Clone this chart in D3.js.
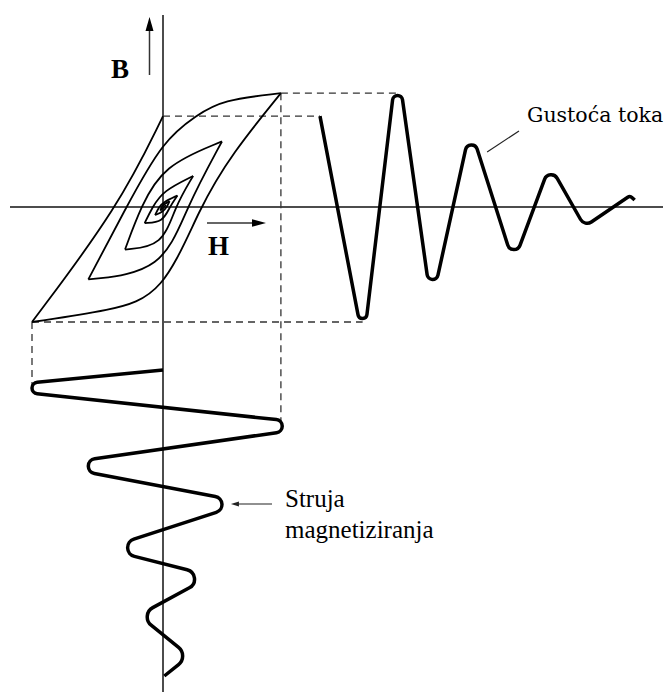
<!DOCTYPE html>
<html>
<head>
<meta charset="utf-8">
<script src="https://cdn.jsdelivr.net/npm/d3@7"></script>
<style>
  body { margin: 0; background: #fff; }
  svg { display: block; }
</style>
</head>
<body>
<script>
// flux density wave: time (half periods), B
const fluxT = [0, 1.1, 2.0, 2.9, 3.9, 5.0, 5.95, 6.85, 8.0, 8.12];
const fluxB = [0.79, -0.97, 0.97, -0.63, 0.54, -0.37, 0.28, -0.14, 0.09, 0.06];

// magnetizing current wave: time (downwards), H
const currT = [0, 0.45, 1.4, 2.4, 3.35, 4.45, 5.2, 6.15, 7.15, 7.65];
const currH = [0, -1, 0.91, -0.57, 0.45, -0.27, 0.24, -0.12, 0.15, 0.01];

// B-H path, turning points
const loopH = [0, -1, 0.90, -0.57, 0.45, -0.29, 0.23, -0.14, 0.11, -0.06, 0.05, -0.02, 0.02];
const loopB = [0.79, -1, 0.99, -0.63, 0.57, -0.37, 0.27, -0.14, 0.10, -0.07, 0.05, -0.03, 0.02];
// per branch: B where it crosses H=0, H where it crosses B=0
const remB = [null, -0.77, 0.58, -0.56, 0.36, -0.34, 0.14, -0.13, 0.04, -0.04, 0.02, -0.01];
const coerH = [-0.34, 0.28, -0.28, 0.18, -0.17, 0.09, -0.08, 0.05, -0.03, 0.03, -0.01, 0.01];
const riseShoulder = [[-0.4, -0.9], [0.53, 0.47]];
const fallShoulder = [[0.45, 0.93], [0.26, 0.8]];

const width = 668, height = 692;

const x = d3.scaleLinear().domain([-1, 1]).range([32, 294]);
const y = d3.scaleLinear().domain([-1, 1]).range([322, 92]);
const tx = d3.scaleLinear().domain([0, 8]).range([320, 630]);
const ty = d3.scaleLinear().domain([0, 8]).range([370, 690]);

const svg = d3.select("body").append("svg")
    .attr("width", width)
    .attr("height", height)
    .attr("font-family", "'Liberation Serif', 'Times New Roman', serif");

// polyline with rounded turns; vertices pushed out so each arc still reaches its peak
function roundedPath(pts, rad) {
  let v = pts.map(q => q.slice());
  const rr = pts.map(() => 0);
  for (let k = 0; k < 40; k++) {
    v = pts.map((q, i) => {
      if (i == 0 || i == pts.length - 1) return q;
      const a = v[i - 1], c = v[i + 1], m = v[i];
      let ux = a[0] - m[0], uy = a[1] - m[1], wx = c[0] - m[0], wy = c[1] - m[1];
      const la = Math.hypot(ux, uy), lc = Math.hypot(wx, wy);
      ux /= la; uy /= la; wx /= lc; wy /= lc;
      const half = Math.acos(Math.max(-1, Math.min(1, ux * wx + uy * wy))) / 2;
      const r = Math.min(rad(i), 0.45 * Math.min(la, lc) * Math.tan(half));
      rr[i] = r;
      const bx = ux + wx, by = uy + wy, lb = Math.hypot(bx, by) || 1;
      const e = r / Math.sin(half) - r;
      return [q[0] - bx / lb * e, q[1] - by / lb * e];
    });
  }
  const p = d3.path();
  p.moveTo(v[0][0], v[0][1]);
  for (let i = 1; i < v.length - 1; i++) p.arcTo(v[i][0], v[i][1], v[i + 1][0], v[i + 1][1], rr[i]);
  p.lineTo(v[v.length - 1][0], v[v.length - 1][1]);
  return p.toString();
}

// axes
svg.append("line")
    .attr("x1", x(0)).attr("x2", x(0))
    .attr("y1", 15).attr("y2", height)
    .attr("stroke", "#111").attr("stroke-width", 1.5);
svg.append("line")
    .attr("x1", 10).attr("x2", 663)
    .attr("y1", y(0)).attr("y2", y(0))
    .attr("stroke", "#111").attr("stroke-width", 1.5);

// dashed projections
const guides = [
  [x(0), y(loopB[0]), tx(fluxT[0]), y(loopB[0])],
  [x(loopH[2]), y(loopB[2]), tx(fluxT[2]), y(loopB[2])],
  [x(loopH[1]), y(loopB[1]), tx(fluxT[1]), y(loopB[1])],
  [x(loopH[2]), y(loopB[2]), x(loopH[2]), ty(currT[2])],
  [x(loopH[1]), y(loopB[1]), x(loopH[1]), ty(currT[1])]
];
svg.append("g")
    .attr("stroke", "#333")
    .attr("stroke-width", 1.3)
    .attr("stroke-dasharray", "7,5")
  .selectAll("line")
  .data(guides)
  .join("line")
    .attr("x1", d => d[0]).attr("y1", d => d[1])
    .attr("x2", d => d[2]).attr("y2", d => d[3]);

// hysteresis branches
const branches = loopH.slice(0, -1).map((h, i) => {
  let pts = [[h, loopB[i]], [loopH[i + 1], loopB[i + 1]], [coerH[i], 0]];
  if (remB[i] != null) pts.push([0, remB[i]]);
  if (i == 1) pts = pts.concat(riseShoulder);
  if (i == 2) pts = pts.concat(fallShoulder);
  return pts.sort((a, b) => a[0] - b[0]);
});

const branchLine = d3.line()
    .x(d => x(d[0]))
    .y(d => y(d[1]))
    .curve(d3.curveBasis);

svg.append("g")
    .attr("fill", "none")
    .attr("stroke", "#000")
    .attr("stroke-width", 1.8)
  .selectAll("path")
  .data(branches)
  .join("path")
    .attr("d", branchLine);

// flux density wave
svg.append("path")
    .attr("d", roundedPath(fluxT.map((t, i) => [tx(t), y(fluxB[i])]), i => Math.min(8, 4 + i * 0.5)))
    .attr("fill", "none")
    .attr("stroke", "#000")
    .attr("stroke-width", 3.5)
    .attr("stroke-linejoin", "round");

// magnetizing current wave
svg.append("path")
    .attr("d", roundedPath(currT.map((t, i) => [x(currH[i]), ty(t)]), i => Math.min(11, 5 + i * 0.8)))
    .attr("fill", "none")
    .attr("stroke", "#000")
    .attr("stroke-width", 3.5)
    .attr("stroke-linejoin", "round");

// axis arrows
svg.append("line")
    .attr("x1", 149.5).attr("x2", 149.5).attr("y1", 75).attr("y2", 28)
    .attr("stroke", "#333").attr("stroke-width", 1.5);
svg.append("path")
    .attr("d", "M145.5,31L149.5,17L153.5,31Z")
    .attr("fill", "#000");
svg.append("line")
    .attr("x1", 207).attr("x2", 255).attr("y1", 223).attr("y2", 223)
    .attr("stroke", "#333").attr("stroke-width", 1.5);
svg.append("path")
    .attr("d", "M252,219.3L266,223L252,226.7Z")
    .attr("fill", "#000");

svg.append("text")
    .attr("x", 111).attr("y", 78)
    .attr("font-size", 27).attr("font-weight", "bold")
    .text("B");
svg.append("text")
    .attr("x", 208).attr("y", 255)
    .attr("font-size", 27).attr("font-weight", "bold")
    .text("H");

// labels with pointers
const fPeak = [tx(fluxT[4]), y(fluxB[4])];
svg.append("line")
    .attr("x1", 519).attr("y1", 131)
    .attr("x2", fPeak[0] + 16).attr("y2", fPeak[1] + 7)
    .attr("stroke", "#222").attr("stroke-width", 1.2);
svg.append("text")
    .attr("x", 527).attr("y", 122)
    .attr("font-family", "'DejaVu Serif', serif")
    .attr("font-size", 20.5)
    .text("Gustoća toka");

const cPeak = [x(currH[4]), ty(currT[4])];
svg.append("line")
    .attr("x1", 272).attr("y1", cPeak[1])
    .attr("x2", cPeak[0] + 14).attr("y2", cPeak[1])
    .attr("stroke", "#222").attr("stroke-width", 1.2);
svg.append("path")
    .attr("d", `M${cPeak[0] + 9},${cPeak[1]}l8,-2.5l0,5Z`)
    .attr("fill", "#222");
svg.append("text")
    .attr("x", 285).attr("y", 507)
    .attr("font-size", 25)
    .text("Struja");
svg.append("text")
    .attr("x", 285).attr("y", 538)
    .attr("font-size", 25)
    .text("magnetiziranja");
</script>
</body>
</html>
